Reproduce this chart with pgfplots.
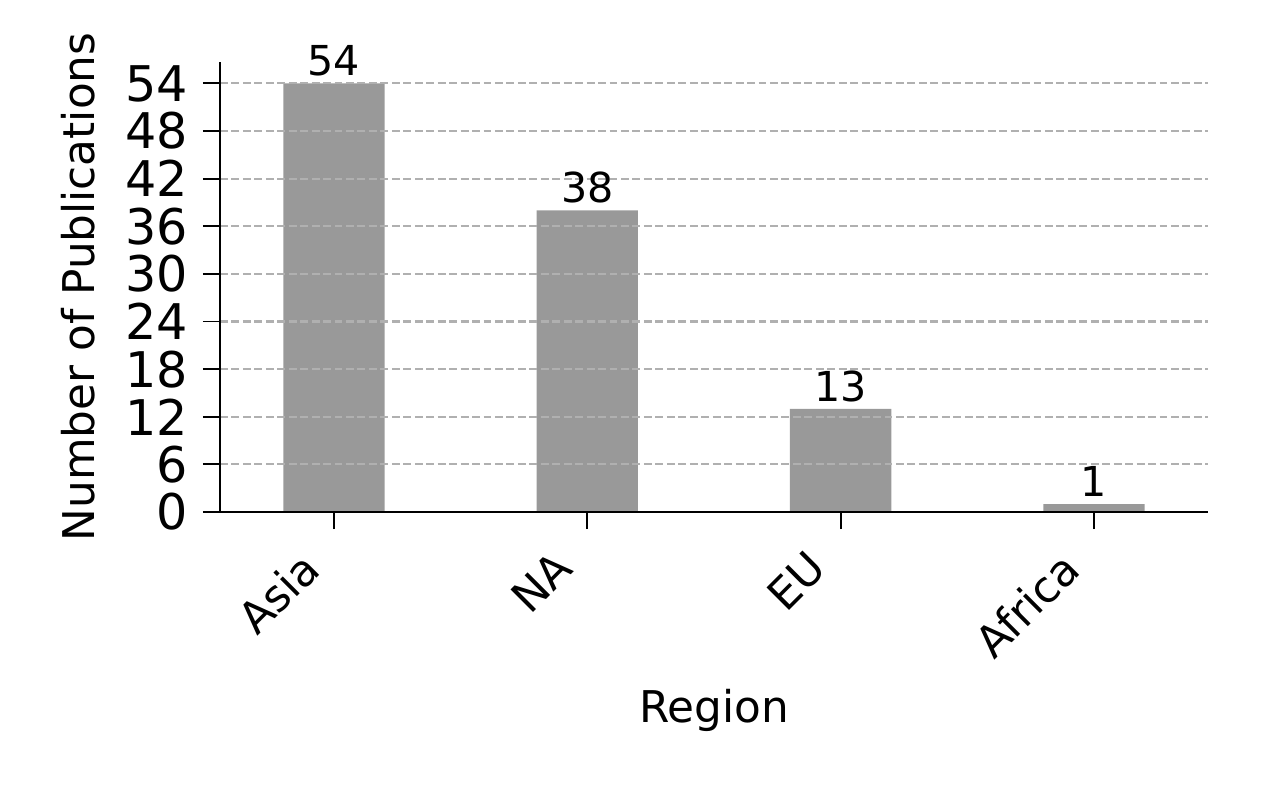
\documentclass[border=0pt]{standalone}
\usepackage{pgfplots}
\pgfplotsset{compat=1.18}
\usepackage{fontspec}
\setmainfont{DejaVu Sans}
\definecolor{bargray}{HTML}{999999}
\definecolor{gridgray}{HTML}{B0B0B0}
\begin{document}
\begin{tikzpicture}
\begin{axis}[
    scale only axis,
    width=237.12pt, height=108pt,
    xmin=-0.45, xmax=3.45,
    ymin=0, ymax=56.7,
    axis x line*=bottom, axis y line*=left,
    axis line style={line width=0.4pt, -},
    xtick={0,1,2,3},
    xticklabels={Asia, NA, EU, Africa},
    ytick={0,6,...,54},
    tick align=outside,
    major tick length=4.1pt,
    tick style={line width=0.45pt, black},
    /pgf/number format/assume math mode=true,
    yticklabel style={font=\fontsize{11.8}{13}\selectfont},
    xticklabel style={font=\fontsize{10.5}{12}\selectfont, xshift=-8.4pt, yshift=-3pt, rotate=45, anchor=north east, inner sep=1pt},
    ymajorgrids,
    grid style={gridgray, line width=0.5pt, dash pattern=on 1.9pt off 0.85pt},
    axis on top,
    xlabel={Region},
    ylabel={Number of Publications},
    xlabel style={font=\fontsize{10.5}{12}\selectfont, at={(axis description cs:0.5,-0.44)}, anchor=center},
    ylabel style={font=\fontsize{10.5}{12}\selectfont, at={(axis description cs:-0.1437,0.5)}, anchor=center},
    ybar, bar width=0.4,
    nodes near coords,
    nodes near coords style={font=\fontsize{9.9}{11}\selectfont, anchor=south, inner sep=1.5pt, black},
]
\addplot[fill=bargray, draw=none] coordinates {(0,54) (1,38) (2,13) (3,1)};
\end{axis}
\pgfresetboundingbox
\useasboundingbox (-52.8pt,-67.44pt) rectangle (250.08pt,122.88pt);
\end{tikzpicture}
\end{document}
